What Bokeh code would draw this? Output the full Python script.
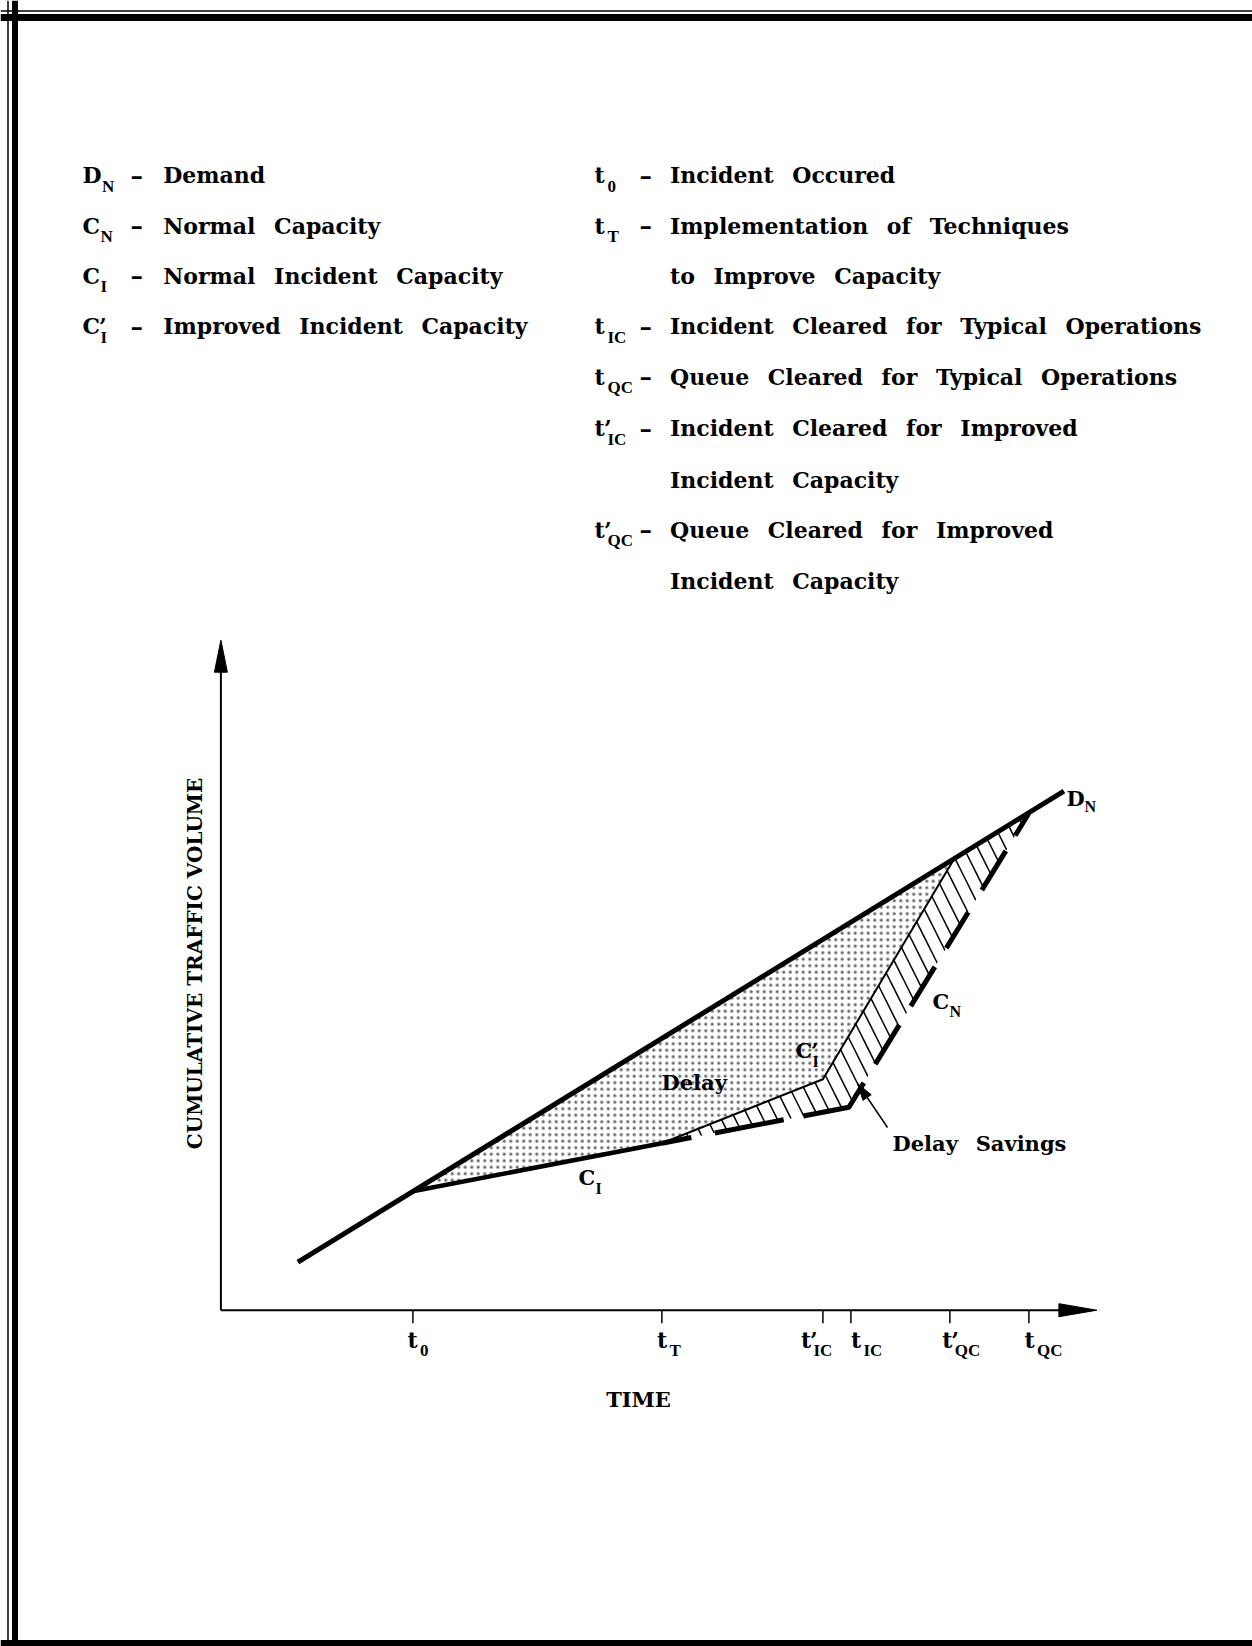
import math
from bokeh.plotting import figure
from bokeh.models import Range1d, Span
from bokeh.embed import file_html
from bokeh.resources import INLINE
from bokeh.core.properties import value

# ---------------- data (arbitrary time / cumulative-volume units, origin = axes corner) ----------------
tick_sub = ["0", "T", "IC", "IC", "QC", "QC"]
tick_prime = [False, False, True, False, True, False]
tick_time = [19.2, 44.1, 60.2, 63.0, 72.9, 80.8]

demand_time = [7.7, 84.3]
demand_volume = [4.8, 51.9]

# typical incident operations: t0 -> tT -> tIC -> tQC
typical_time = [19.2, 44.1, 62.8, 80.8]
typical_volume = [11.9, 16.7, 20.3, 49.7]

# improved incident capacity: tT -> t'IC -> t'QC
improved_time = [44.1, 60.2, 73.3]
improved_volume = [16.7, 23.1, 45.1]

axis_time_end = 87.6
axis_volume_end = 67.0

left_sym = ["D", "C", "C", "C"]
left_prime = [False, False, False, True]
left_sub = ["N", "N", "I", "I"]
left_desc = ["Demand", "Normal Capacity", "Normal Incident Capacity", "Improved Incident Capacity"]

right_sym = ["t", "t", "", "t", "t", "t", "", "t", ""]
right_prime = [False, False, False, False, False, True, False, True, False]
right_sub = ["0", "T", "", "IC", "QC", "IC", "", "QC", ""]
right_desc = ["Incident Occured", "Implementation of Techniques", "to Improve Capacity",
              "Incident Cleared for Typical Operations", "Queue Cleared for Typical Operations",
              "Incident Cleared for Improved", "Incident Capacity",
              "Queue Cleared for Improved", "Incident Capacity"]

# ---------------- layout ----------------
W, H = 1252, 1646
SCALE = 10.0
OX, OY = 220.4, 1309.7   # page pixel of the axes origin


def X(px):
    return (px - OX) / SCALE


def Y(py):
    return (OY - py) / SCALE


def D(px):
    return px / SCALE


def wide(s):
    # the typeset original uses wide word gaps
    return s.replace(" ", " \u2002")


FONT = "DejaVu Serif"
SUBFONT = "Liberation Serif"

p = figure(width=W, height=H,
           x_range=Range1d(-OX / SCALE, (W - OX) / SCALE),
           y_range=Range1d((OY - H) / SCALE, OY / SCALE),
           output_backend="svg", toolbar_location=None, min_border=0,
           x_axis_location=None, y_axis_location=None)
p.grid.visible = False
p.outline_line_color = None
p.background_fill_color = "white"
p.border_fill_color = "white"


def txt(xs, ys, texts, size, font=FONT, align="left", baseline="alphabetic", angle=0.0):
    p.text(x=xs, y=ys, text=texts, text_font=value(font), text_font_style="bold",
           text_font_size=f"{size}px", text_align=align, text_baseline=baseline,
           angle=angle, text_color="black")


def head(tx, ty, dx, dy, length, half):
    n = math.hypot(dx, dy)
    ux, uy = dx / n, dy / n
    bx, by = tx - ux * length, ty - uy * length
    nx, ny = -uy, ux
    return [tx, bx + nx * half, bx - nx * half], [ty, by + ny * half, by - ny * half]


# page frame (scanned border)
p.add_layout(Span(location=X(7.5), dimension="height", line_color="black", line_width=1.5))
p.add_layout(Span(location=X(14.5), dimension="height", line_color="black", line_width=6))
p.add_layout(Span(location=Y(10.5), dimension="width", line_color="black", line_width=1.5))
p.add_layout(Span(location=Y(17), dimension="width", line_color="black", line_width=7))
p.add_layout(Span(location=Y(1643), dimension="width", line_color="black", line_width=7))

# ---------------- legend ----------------
lrow = [174.6, 225.0, 275.4, 325.7]
rrow = [174.6, 225.0, 275.4, 325.7, 376.1, 427.5, 479.0, 529.4, 580.8]
SUB_DY = 11

txt([X(81.9)] * 4, [Y(b) for b in lrow], left_sym, 22)
sub_dx = {"D": 19.5, "C": 18.0}
txt([X(81.9 + sub_dx[s]) for s in left_sym], [Y(b + SUB_DY) for b in lrow], left_sub, 17, font=SUBFONT)
txt([X(81.9 + 16.5) for pr in left_prime if pr], [Y(b) for b, pr in zip(lrow, left_prime) if pr], ["’"], 22)
txt([X(130)] * 4, [Y(b) for b in lrow], ["–"] * 4, 25)
txt([X(162.7)] * 4, [Y(b) for b in lrow], [wide(s) for s in left_desc], 22)

rs = [i for i, s in enumerate(right_sym) if s]
txt([X(594)] * len(rs), [Y(rrow[i]) for i in rs], [right_sym[i] for i in rs], 22)
txt([X(607)] * len(rs), [Y(rrow[i] + SUB_DY) for i in rs], [right_sub[i] for i in rs], 17, font=SUBFONT)
rp = [i for i, pr in enumerate(right_prime) if pr]
txt([X(603.5)] * len(rp), [Y(rrow[i]) for i in rp], ["’"] * len(rp), 22)
txt([X(639)] * len(rs), [Y(rrow[i]) for i in rs], ["–"] * len(rs), 25)
txt([X(669.5)] * len(right_desc), [Y(b) for b in rrow], [wide(s) for s in right_desc], 22)

# ---------------- regions ----------------
delay_x = [typical_time[0], improved_time[2], improved_time[1], improved_time[0]]
delay_y = [typical_volume[0], improved_volume[2], improved_volume[1], improved_volume[0]]
p.patch(delay_x, delay_y, fill_color="white", line_color=None,
        hatch_pattern="dot", hatch_scale=6.5, hatch_weight=0.6, hatch_color="#6a6a6a")

sav_x = typical_time[1:] + improved_time[::-1][:-1]
sav_y = typical_volume[1:] + improved_volume[::-1][:-1]
p.patch(sav_x, sav_y, fill_color="white", line_color=None,
        hatch_pattern="left_diagonal_line", hatch_scale=28, hatch_weight=1.5, hatch_color="black")

# ---------------- curves ----------------
p.line(improved_time, improved_volume, line_width=2, line_color="black")
p.line(typical_time[:2], typical_volume[:2], line_width=4.5, line_color="black")
p.line(typical_time[1:], typical_volume[1:], line_width=5, line_color="black",
       line_dash="30 24 70 20 75 22 46 22 46 22 42 26 46 18")
p.line(demand_time, demand_volume, line_width=5, line_color="black")

# ---------------- axes ----------------
p.line([0, 0], [0, axis_volume_end - D(28)], line_width=2, line_color="black")
p.line([0, axis_time_end - D(34)], [0, 0], line_width=2, line_color="black")
hx, hy = head(0, axis_volume_end, 0, 1, D(32), D(6.5))
p.patch(hx, hy, fill_color="black", line_color="black")
hx, hy = head(axis_time_end, 0, 1, 0, D(38), D(6.5))
p.patch(hx, hy, fill_color="black", line_color="black")
p.segment(x0=tick_time, y0=[0] * 6, x1=tick_time, y1=[-D(13)] * 6, line_width=1.5, line_color="black")

tick_label_dx = [-5.4, -5.0, -22.0, 0.0, -7.7, -4.4]
t_x = [t + D(dx) for t, dx in zip(tick_time, tick_label_dx)]
txt(t_x, [Y(1339)] * 6, ["t"] * 6, 22)
txt([x + D(12.5) for x in t_x], [Y(1350)] * 6, tick_sub, 17, font=SUBFONT)
txt([x + D(9) for x, pr in zip(t_x, tick_prime) if pr], [Y(1339)] * sum(tick_prime), ["’"] * sum(tick_prime), 22)

txt([X(638)], [Y(1399)], ["TIME"], 21, align="center")
txt([X(194)], [Y(963)], ["CUMULATIVE TRAFFIC VOLUME"], 20,
    align="center", baseline="middle", angle=math.pi / 2)

# ---------------- diagram labels ----------------
txt([X(693.7)], [Y(1082)], ["Delay"], 21, align="center")
txt([X(892)], [Y(1143)], [wide("Delay Savings")], 21)
txt([X(795), X(578), X(932), X(1066)], [Y(1050), Y(1177), Y(1001), Y(798)], ["C", "C", "C", "D"], 21)
txt([X(810.5)], [Y(1050)], ["’"], 21)
txt([X(812), X(595), X(949), X(1084)], [Y(1061), Y(1188), Y(1011), Y(806)], ["I", "I", "N", "N"], 16, font=SUBFONT)

# Delay Savings pointer
p.line([X(887), X(862)], [Y(1127), Y(1090)], line_width=1.5, line_color="black")
hx, hy = head(X(857), Y(1083), X(857) - X(887), Y(1083) - Y(1127), D(17), D(5))
p.patch(hx, hy, fill_color="black", line_color="black")

open("out.html", "w").write(file_html(p, INLINE))
